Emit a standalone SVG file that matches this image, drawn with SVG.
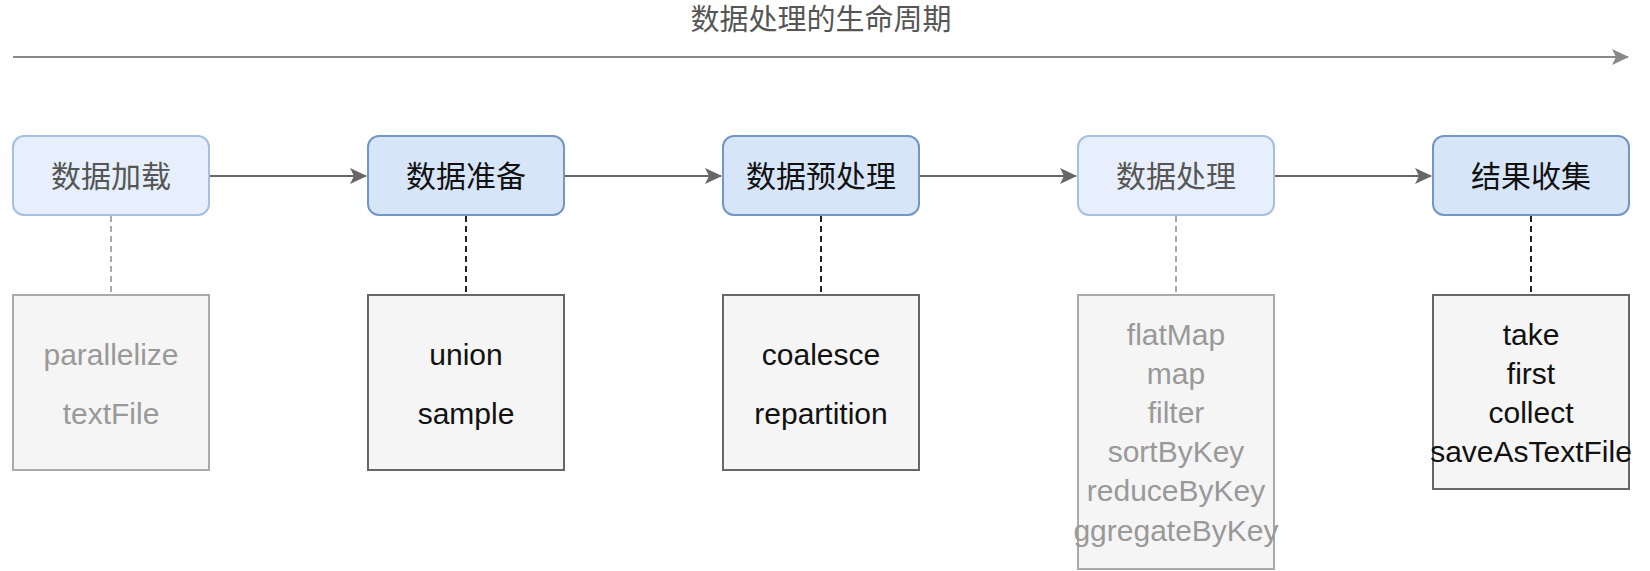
<svg xmlns="http://www.w3.org/2000/svg" width="1650" height="571" viewBox="0 0 1650 571">
<style>
text{font-family:"Liberation Sans","Noto Sans CJK SC",sans-serif;text-anchor:middle}
.title{font-size:29px;fill:#555}
.nlab{font-size:30px;fill:#111}
.nlab.dim{fill:#555}
.node{fill:#d7e5f8;stroke:#7496c4;stroke-width:2}
.node.dim{fill:#e6effb;stroke:#a6bfe2}
.ops{fill:#f5f5f5;stroke:#666;stroke-width:2}
.ops.dim{stroke:#aaa}
.otxt{font-size:30px;fill:#111}
.otxt.dim{fill:#999}
.conn{stroke:#666;stroke-width:2;fill:none}
.timeline{stroke:#888;stroke-width:2;fill:none}
.dash{stroke:#222;stroke-width:2;stroke-dasharray:6 4;fill:none}
.dash.dim{stroke:#aaa}
</style>
<defs>
<marker id="arr" markerWidth="17" markerHeight="16" refX="16" refY="8" orient="auto" markerUnits="userSpaceOnUse">
<path d="M0,0 L17,8 L0,16 L4,8 Z" fill="#666"/>
</marker>
<marker id="arr2" markerWidth="17" markerHeight="16" refX="16" refY="8" orient="auto" markerUnits="userSpaceOnUse">
<path d="M0,0 L17,8 L0,16 L4,8 Z" fill="#888"/>
</marker>
</defs>
<rect width="1650" height="571" fill="#fff"/>
<g id="title">
<text class="title" x="821" y="30">数据处理的生命周期</text>
</g>
<g id="connectors">
<line class="timeline" x1="13" y1="57" x2="1628" y2="57" marker-end="url(#arr2)"/>
<line class="conn" x1="209" y1="176" x2="366" y2="176" marker-end="url(#arr)"/>
<line class="conn" x1="564" y1="176" x2="721" y2="176" marker-end="url(#arr)"/>
<line class="conn" x1="919" y1="176" x2="1076" y2="176" marker-end="url(#arr)"/>
<line class="conn" x1="1274" y1="176" x2="1431" y2="176" marker-end="url(#arr)"/>
<line class="dash dim" x1="111" y1="216" x2="111" y2="295"/>
<line class="dash" x1="466" y1="216" x2="466" y2="295"/>
<line class="dash" x1="821" y1="216" x2="821" y2="295"/>
<line class="dash dim" x1="1176" y1="216" x2="1176" y2="295"/>
<line class="dash" x1="1531" y1="216" x2="1531" y2="295"/>
</g>
<g id="node-load">
<rect class="node dim" x="13" y="136" width="196" height="79" rx="11"/>
<text class="nlab dim" x="111" y="187">数据加载</text>
</g>
<g id="node-prepare">
<rect class="node" x="368" y="136" width="196" height="79" rx="11"/>
<text class="nlab" x="466" y="187">数据准备</text>
</g>
<g id="node-preprocess">
<rect class="node" x="723" y="136" width="196" height="79" rx="11"/>
<text class="nlab" x="821" y="187">数据预处理</text>
</g>
<g id="node-process">
<rect class="node dim" x="1078" y="136" width="196" height="79" rx="11"/>
<text class="nlab dim" x="1176" y="187">数据处理</text>
</g>
<g id="node-collect">
<rect class="node" x="1433" y="136" width="196" height="79" rx="11"/>
<text class="nlab" x="1531" y="187">结果收集</text>
</g>
<g id="ops-load">
<rect class="ops dim" x="13" y="295" width="196" height="175"/>
<text class="otxt dim" x="111" y="365">parallelize</text>
<text class="otxt dim" x="111" y="424">textFile</text>
</g>
<g id="ops-prepare">
<rect class="ops" x="368" y="295" width="196" height="175"/>
<text class="otxt" x="466" y="365">union</text>
<text class="otxt" x="466" y="424">sample</text>
</g>
<g id="ops-preprocess">
<rect class="ops" x="723" y="295" width="196" height="175"/>
<text class="otxt" x="821" y="365">coalesce</text>
<text class="otxt" x="821" y="424">repartition</text>
</g>
<g id="ops-process">
<rect class="ops dim" x="1078" y="295" width="196" height="274"/>
<text class="otxt dim" x="1176" y="345">flatMap</text>
<text class="otxt dim" x="1176" y="384">map</text>
<text class="otxt dim" x="1176" y="423">filter</text>
<text class="otxt dim" x="1176" y="462">sortByKey</text>
<text class="otxt dim" x="1176" y="501">reduceByKey</text>
<text class="otxt dim" x="1176" y="541">ggregateByKey</text>
</g>
<g id="ops-collect">
<rect class="ops" x="1433" y="295" width="196" height="194"/>
<text class="otxt" x="1531" y="345">take</text>
<text class="otxt" x="1531" y="384">first</text>
<text class="otxt" x="1531" y="423">collect</text>
<text class="otxt" x="1531" y="462">saveAsTextFile</text>
</g>
</svg>
